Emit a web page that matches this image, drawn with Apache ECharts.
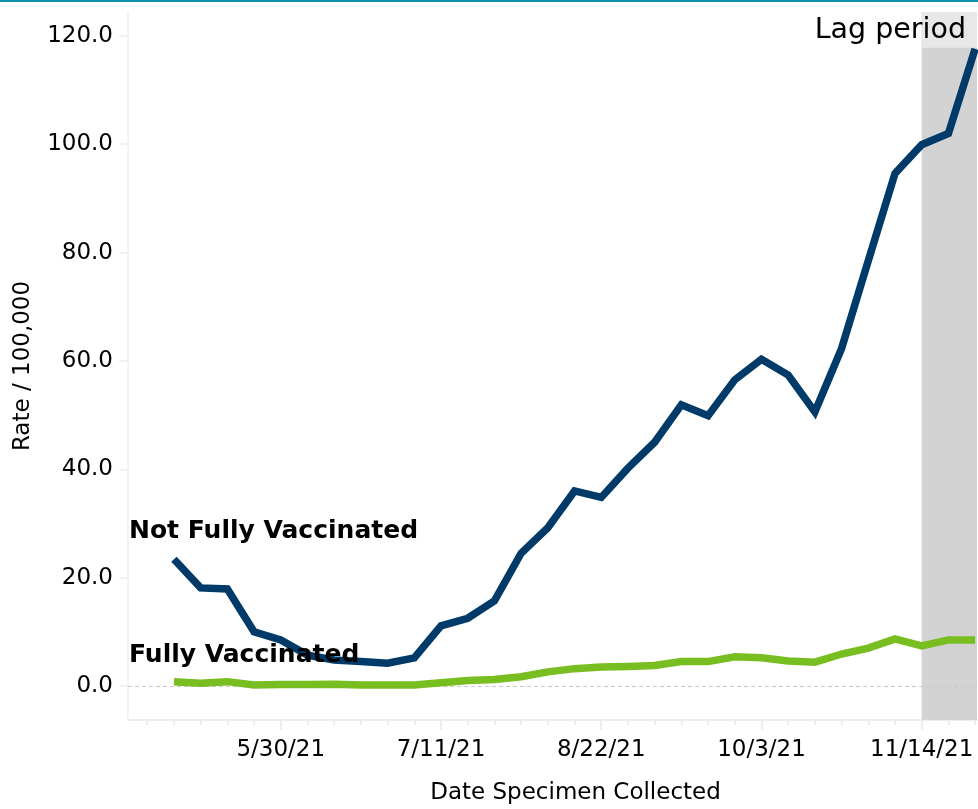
<!DOCTYPE html>
<html>
<head>
<meta charset="utf-8">
<title>Case rate by vaccination status</title>
<script src="https://cdn.jsdelivr.net/npm/echarts@6/dist/echarts.min.js"></script>
<style>
  html, body { margin: 0; padding: 0; background: #ffffff; }
  #chart { width: 978px; height: 809px; }
</style>
</head>
<body>
<div id="chart"></div>
<script>
// Week-start dates of specimen collection (one point per week)
const weeks = [
  '5/2/21', '5/9/21', '5/16/21', '5/23/21', '5/30/21', '6/6/21', '6/13/21', '6/20/21',
  '6/27/21', '7/4/21', '7/11/21', '7/18/21', '7/25/21', '8/1/21', '8/8/21', '8/15/21',
  '8/22/21', '8/29/21', '9/5/21', '9/12/21', '9/19/21', '9/26/21', '10/3/21', '10/10/21',
  '10/17/21', '10/24/21', '10/31/21', '11/7/21', '11/14/21', '11/21/21', '11/28/21'
];

// Rate per 100,000
const notFullyVaccinated = [
  23.4, 18.1, 17.9, 10.0, 8.5, 5.7, 4.8, 4.5,
  4.2, 5.2, 11.1, 12.5, 15.7, 24.5, 29.2, 36.0,
  34.8, 40.2, 45.0, 51.9, 49.9, 56.5, 60.3, 57.4,
  50.6, 62.3, 78.5, 94.6, 99.9, 102.0, 117.6
];
const fullyVaccinated = [
  0.8, 0.5, 0.8, 0.2, 0.25, 0.25, 0.3, 0.2,
  0.2, 0.2, 0.6, 1.0, 1.2, 1.7, 2.6, 3.2,
  3.5, 3.6, 3.8, 4.5, 4.5, 5.4, 5.2, 4.6,
  4.4, 5.9, 7.0, 8.7, 7.4, 8.5, 8.5
];

// Labelled weeks on the date axis and tick values on the rate axis
const dateTickLabels = ['5/30/21', '7/11/21', '8/22/21', '10/3/21', '11/14/21'];
const rateTicks = [0, 20, 40, 60, 80, 100, 120];

// Most recent weeks still subject to reporting lag
const lagStartWeek = '11/14/21';

const FONT = 'DejaVu Sans';
const TEXT = '#000000';
const xMin = -1.72, xMax = 30.07;
const yMin = -6.28, yMax = 124.4;

const idx = (label) => weeks.indexOf(label);
const weekIndices = [];
for (let i = -1; i < weeks.length; i++) weekIndices.push(i);
const majorTickIdx = dateTickLabels.map(idx);

const toPairs = (vals) => vals.map((v, i) => [i, v]);

const chart = echarts.init(document.getElementById('chart'), null, { renderer: 'canvas' });

chart.setOption({
  animation: false,
  backgroundColor: '#ffffff',
  grid: { left: 128, right: 1, top: 12, bottom: 89, containLabel: false, outerBoundsMode: 'none' },
  xAxis: [
    {
      type: 'value',
      min: xMin,
      max: xMax,
      name: 'Date Specimen Collected',
      nameLocation: 'middle',
      nameGap: 62,
      nameTextStyle: { fontFamily: FONT, fontSize: 23, color: TEXT, padding: [0, 0, 0, 46] },
      axisLine: { show: true, onZero: false, lineStyle: { color: '#eeeeee', width: 2 } },
      axisTick: { show: true, customValues: majorTickIdx, length: 10, lineStyle: { color: '#eeeeee', width: 2 } },
      axisLabel: {
        show: true,
        customValues: majorTickIdx,
        formatter: (v) => weeks[Math.round(v)] || '',
        fontFamily: FONT, fontSize: 23, color: TEXT, margin: 19
      },
      splitLine: { show: false }
    },
    {
      type: 'value',
      min: xMin,
      max: xMax,
      position: 'bottom',
      axisLine: { show: false, onZero: false },
      axisTick: { show: true, customValues: weekIndices, length: 5, lineStyle: { color: '#eeeeee', width: 2 } },
      axisLabel: { show: false },
      splitLine: { show: false }
    }
  ],
  yAxis: {
    type: 'value',
    min: yMin,
    max: yMax,
    name: 'Rate / 100,000',
    nameLocation: 'middle',
    nameGap: 93,
    nameRotate: 90,
    nameTextStyle: { fontFamily: FONT, fontSize: 23, color: TEXT },
    axisLine: { show: true, onZero: false, lineStyle: { color: '#f0f0f0', width: 1.5 } },
    axisTick: { show: true, customValues: rateTicks, length: 9, lineStyle: { color: '#eeeeee', width: 1.5 } },
    axisLabel: {
      customValues: rateTicks,
      formatter: (v) => v.toFixed(1),
      fontFamily: FONT, fontSize: 23, color: TEXT, margin: 15
    },
    splitLine: { show: false }
  },
  series: [
    {
      name: 'Not Fully Vaccinated',
      type: 'line',
      data: toPairs(notFullyVaccinated),
      symbol: 'none',
      z: 3,
      lineStyle: { color: '#003a68', width: 7.5, join: 'miter' },
      markArea: {
        silent: true,
        data: [
          [
            { xAxis: idx(lagStartWeek), itemStyle: { color: '#d3d3d3' } },
            { xAxis: xMax }
          ],
          [
            {
              xAxis: idx(lagStartWeek), yAxis: 117.8,
              itemStyle: { color: '#e8e8e8' },
              label: {
                show: true,
                formatter: 'Lag period',
                position: 'insideRight',
                distance: 11,
                offset: [0, 1],
                fontFamily: FONT, fontSize: 28.5, color: TEXT
              }
            },
            { xAxis: xMax, yAxis: yMax }
          ]
        ]
      },
      markLine: {
        silent: true,
        symbol: 'none',
        label: { show: false },
        lineStyle: { color: '#c8c8c8', type: [4, 3], width: 1 },
        data: [{ yAxis: 0 }],
        z: 1
      }
    },
    {
      name: 'Fully Vaccinated',
      type: 'line',
      data: toPairs(fullyVaccinated),
      symbol: 'none',
      z: 4,
      lineStyle: { color: '#78be20', width: 7.5, join: 'miter' }
    }
  ],
  graphic: [
    { type: 'rect', left: 0, top: 0, shape: { width: 978, height: 2 }, style: { fill: '#0b8fad' }, z: 100 },
    {
      type: 'text', z: 100,
      style: { x: 129, y: 531, text: 'Not Fully Vaccinated', font: 'bold 25px "DejaVu Sans"', fill: TEXT, verticalAlign: 'middle' }
    },
    {
      type: 'text', z: 100,
      style: { x: 129, y: 655, text: 'Fully Vaccinated', font: 'bold 25px "DejaVu Sans"', fill: TEXT, verticalAlign: 'middle' }
    }
  ]
});
</script>
</body>
</html>
